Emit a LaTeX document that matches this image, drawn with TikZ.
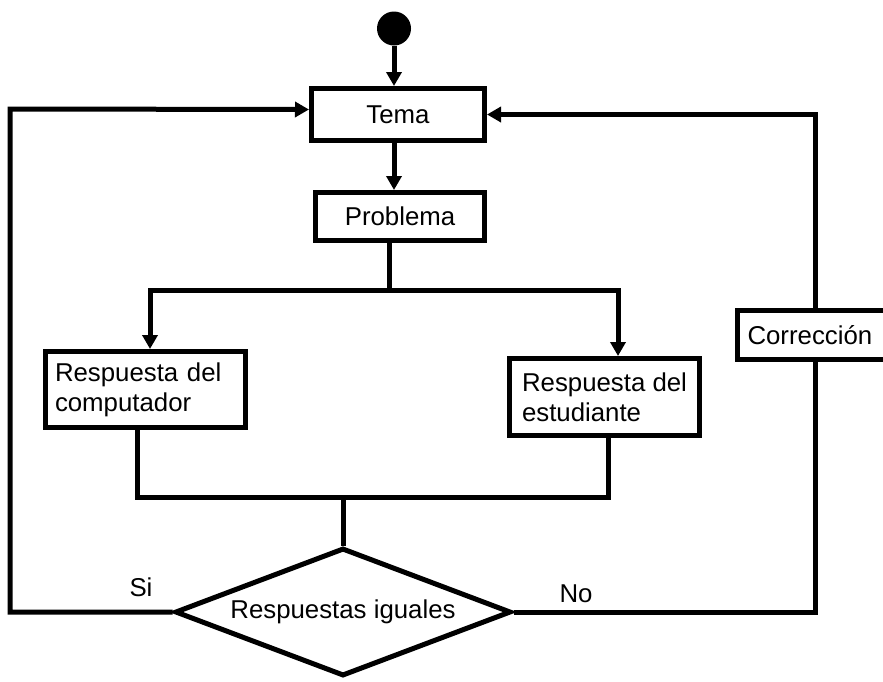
\documentclass[tikz,border=0pt]{standalone}
\usepackage{fontspec}
\setmainfont{Liberation Sans}
\usetikzlibrary{shapes.geometric,arrows.meta,calc}
\begin{document}
\begin{tikzpicture}[x=1pt,y=-1pt,
  txt/.style={font=\fontsize{25.8}{30}\selectfont},
  box/.style={txt,draw,line width=5pt,rectangle,inner sep=0pt},
  conn/.style={line width=5pt},
  arr/.style={conn,-{Triangle[length=14pt,width=15pt]}},
  lbl/.style={txt,inner sep=0pt}]
\useasboundingbox (0,0) rectangle (883,681);
\node[circle,fill=black,minimum size=34pt,inner sep=0pt] (start) at (394,28.5) {};
\node[box,minimum width=173pt,minimum height=52pt] (tema) at (398,114.5) {Tema};
\node[box,minimum width=169pt,minimum height=48pt] (prob) at (400,216.5) {Problema};
\node[box,minimum width=200pt,minimum height=76pt,align=left,text width=181pt] (comp) at (145.5,389.5) {Respuesta del\\computador};
\node[box,minimum width=190pt,minimum height=77pt,align=left] (est) at (604.5,397) {Respuesta del\\estudiante};
\node[box,minimum width=160pt,minimum height=49pt,align=left,text width=140pt] (corr) at (817.5,335) {Corrección};
\node[txt,diamond,draw,line width=5pt,shape aspect=2.6,minimum width=336pt,minimum height=128pt,inner sep=0pt] (dia) at (343,612) {Respuestas iguales};
\node[lbl] (si) at (141,587) {Si};
\node[lbl] (no) at (576,594) {No};
\coordinate (split) at (389,290);
\coordinate (merge) at (343,497);
\coordinate (lc) at (10,109);
\draw[arr] (start.south) -- (start.south |- tema.north);
\draw[arr] (tema.south -| start) -- (start |- prob.north);
\draw[conn] ([xshift=-11pt]prob.south) -- (split);
\draw[arr] (split) -| ([xshift=4.5pt]comp.north);
\draw[arr] (split) -| ([xshift=13.5pt]est.north);
\draw[conn] ([xshift=-8.5pt]comp.south) |- (merge);
\draw[conn] ([xshift=3.5pt]est.south) |- (merge);
\draw[conn] (merge) -- (dia.north);
\draw[arr] (dia.west) -| (lc) -- ([yshift=5pt]tema.west);
\draw[conn] (dia.east) -| ([xshift=-2.5pt]corr.south);
\draw[arr] ([xshift=-2.5pt]corr.north) |- (tema.east);
\end{tikzpicture}
\end{document}
